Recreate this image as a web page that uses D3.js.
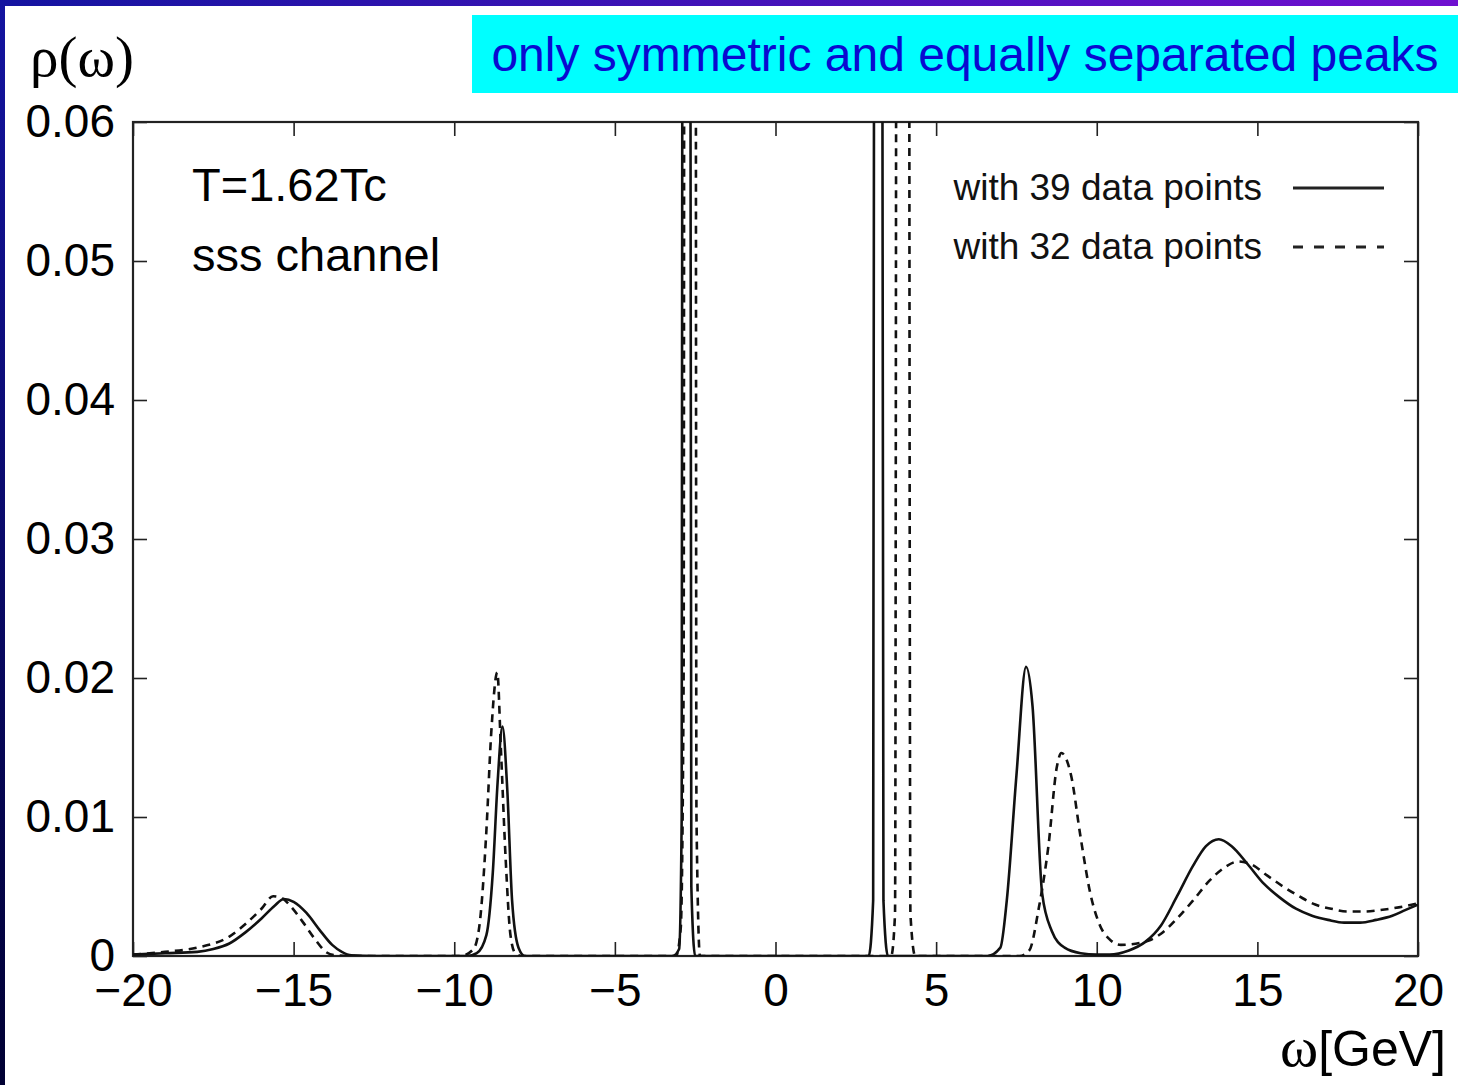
<!DOCTYPE html>
<html>
<head>
<meta charset="utf-8">
<script src="https://cdn.jsdelivr.net/npm/d3@7"></script>
<style>
  html, body { margin: 0; padding: 0; background: #fff; }
  svg { display: block; }
</style>
</head>
<body>
<div id="chart"></div>
<script>
// omega [GeV] and rho(omega)
const omega39 = [-20, -19, -18, -17.5, -17, -16.5, -16, -15.6, -15.3, -15.0, -14.6, -14.2, -13.8, -13.5, -13.2, -12.5,
  -9.6, -9.3, -9.0, -8.8, -8.65, -8.5, -8.35, -8.2, -8.0, -7.8,
  -3.2, -3.0, -2.92, -2.86, -2.78, -2.7, -2.62, -2.5,
  2.9, 3.04, 3.1, 3.16, 3.22, 3.29, 3.36, 3.5,
  6.6, 7.0, 7.2, 7.5, 7.8, 8.0, 8.3, 8.6, 9.0, 9.5, 10.0, 10.4,
  11.0, 11.5, 12.0, 12.5, 13.0, 13.4, 13.8, 14.2, 14.7, 15.2, 15.7, 16.2, 16.7, 17.2, 17.7, 18.2, 18.7, 19.2, 19.6, 20];
const rho39 = [0.0001, 0.0002, 0.0003, 0.0005, 0.0009, 0.0017, 0.0027, 0.0036, 0.0041, 0.0039, 0.0031, 0.0019, 0.0008, 0.0003, 0.00005, 0,
  0, 0.0002, 0.0015, 0.006, 0.0125, 0.0165, 0.012, 0.004, 0.0006, 0,
  0, 0.0005, 0.01, 0.2, 0.4, 0.2, 0.005, 0,
  0, 0.004, 0.15, 0.4, 0.3, 0.15, 0.004, 0,
  0, 0.0006, 0.004, 0.013, 0.0208, 0.018, 0.0045, 0.0018, 0.0006, 0.0002, 0.0001, 0.0001,
  0.0004, 0.001, 0.0022, 0.0043, 0.0065, 0.0079, 0.0084, 0.0079, 0.0066, 0.0052, 0.0042, 0.0034, 0.0029, 0.0026, 0.0024, 0.0024, 0.0026, 0.0029, 0.0033, 0.0037];

const omega32 = [-20, -19, -18, -17, -16.5, -16, -15.64, -15.4, -15.1, -14.7, -14.3, -14.0, -13.7, -13.0,
  -9.8, -9.4, -9.2, -9.0, -8.85, -8.66, -8.55, -8.4, -8.25, -8.1, -7.9,
  -3.1, -2.95, -2.86, -2.8, -2.66, -2.52, -2.46, -2.35,
  3.6, 3.72, 3.8, 3.95, 4.12, 4.2, 4.35,
  7.6, 7.9, 8.2, 8.3, 8.5, 8.75, 8.9, 9.2, 9.5, 9.8, 10.1, 10.4, 10.75,
  11.6, 12.0, 12.5, 13.0, 13.5, 14.0, 14.4, 14.8, 15.3, 15.8, 16.3, 16.8, 17.3, 17.8, 18.3, 18.8, 19.4, 20];
const rho32 = [0.0001, 0.0003, 0.0006, 0.0014, 0.0023, 0.0034, 0.0043, 0.0042, 0.0036, 0.0024, 0.0011, 0.0003, 0.00005, 0,
  0, 0.0005, 0.0025, 0.009, 0.016, 0.0204, 0.015, 0.007, 0.0015, 0.0002, 0,
  0, 0.002, 0.02, 0.3, 0.5, 0.3, 0.01, 0,
  0, 0.003, 0.2, 0.5, 0.2, 0.003, 0,
  0, 0.0004, 0.0035, 0.0048, 0.008, 0.0135, 0.0146, 0.013, 0.0085, 0.0045, 0.0022, 0.0012, 0.0008,
  0.0011, 0.0016, 0.0027, 0.004, 0.0054, 0.0064, 0.0068, 0.0066, 0.0058, 0.005, 0.0043, 0.0037, 0.0034, 0.0032, 0.0032, 0.0033, 0.0035, 0.0038];

const xTicks = [-20, -15, -10, -5, 0, 5, 10, 15, 20];
const yTicks = [0, 0.01, 0.02, 0.03, 0.04, 0.05, 0.06];
const legendLabels = ["with 39 data points", "with 32 data points"];
const notes = ["T=1.62Tc", "sss channel"];
const banner = "only symmetric and equally separated peaks";

const W = 1458, H = 1085;
const pLeft = 133, pRight = 1418, pTop = 122, pBottom = 956;

const svg = d3.select("#chart").append("svg")
  .attr("width", W).attr("height", H)
  .attr("viewBox", [0, 0, W, H]);

// slide frame: gradient bars top and left
const defs = svg.append("defs");
const gTop = defs.append("linearGradient").attr("id", "gtop").attr("x1", 0).attr("x2", 1).attr("y1", 0).attr("y2", 0);
gTop.append("stop").attr("offset", 0).attr("stop-color", "#1414a0");
gTop.append("stop").attr("offset", 1).attr("stop-color", "#7010d0");
const gLeft = defs.append("linearGradient").attr("id", "gleft").attr("x1", 0).attr("x2", 0).attr("y1", 0).attr("y2", 1);
gLeft.append("stop").attr("offset", 0).attr("stop-color", "#1414a0");
gLeft.append("stop").attr("offset", 1).attr("stop-color", "#000033");
defs.append("clipPath").attr("id", "plotclip").append("rect")
  .attr("x", pLeft).attr("y", pTop).attr("width", pRight - pLeft).attr("height", pBottom - pTop);

svg.append("rect").attr("x", 0).attr("y", 0).attr("width", W).attr("height", 6).attr("fill", "url(#gtop)");
svg.append("rect").attr("x", 0).attr("y", 0).attr("width", 5).attr("height", H).attr("fill", "url(#gleft)");

// banner
svg.append("rect").attr("x", 472).attr("y", 15).attr("width", W - 472).attr("height", 78).attr("fill", "#00ffff");
svg.append("text").attr("x", 965).attr("y", 71)
  .attr("text-anchor", "middle")
  .attr("font-family", "Liberation Sans, Arial, sans-serif")
  .attr("font-size", 48).attr("fill", "#0a0ad0")
  .text(banner);

const x = d3.scaleLinear().domain([-20, 20]).range([pLeft, pRight]);
const y = d3.scaleLinear().domain([0, 0.06]).range([pBottom, pTop]);

const font = "Liberation Sans, Arial, Helvetica, sans-serif";

// axes with inward ticks, mirrored
const tickLen = 14;
svg.append("g").attr("transform", `translate(0,${pBottom})`)
  .call(d3.axisBottom(x).tickValues(xTicks).tickSize(-tickLen).tickPadding(22)
    .tickFormat(d => d < 0 ? "\u2212" + Math.abs(d) : d))
  .call(g => g.select(".domain").remove())
  .call(g => g.selectAll("line").attr("stroke", "#222").attr("stroke-width", 1.6))
  .call(g => g.selectAll("text").attr("font-family", font).attr("font-size", 46).attr("fill", "#000").attr("dy", "0.6em"));
svg.append("g").attr("transform", `translate(0,${pTop})`)
  .call(d3.axisTop(x).tickValues(xTicks).tickSize(-tickLen).tickFormat(""))
  .call(g => g.select(".domain").remove())
  .call(g => g.selectAll("line").attr("stroke", "#222").attr("stroke-width", 1.6));
svg.append("g").attr("transform", `translate(${pLeft},0)`)
  .call(d3.axisLeft(y).tickValues(yTicks).tickSize(-tickLen).tickPadding(18)
    .tickFormat(d => d === 0 ? "0" : d3.format(".2f")(d)))
  .call(g => g.select(".domain").remove())
  .call(g => g.selectAll("line").attr("stroke", "#222").attr("stroke-width", 1.6))
  .call(g => g.selectAll("text").attr("font-family", font).attr("font-size", 46).attr("fill", "#000"));
svg.append("g").attr("transform", `translate(${pRight},0)`)
  .call(d3.axisRight(y).tickValues(yTicks).tickSize(-tickLen).tickFormat(""))
  .call(g => g.select(".domain").remove())
  .call(g => g.selectAll("line").attr("stroke", "#222").attr("stroke-width", 1.6));

svg.append("rect").attr("x", pLeft).attr("y", pTop)
  .attr("width", pRight - pLeft).attr("height", pBottom - pTop)
  .attr("fill", "none").attr("stroke", "#222").attr("stroke-width", 2.2);

// curves
const line = d3.line().x(d => x(d[0])).y(d => y(d[1])).curve(d3.curveMonotoneX);
const plot = svg.append("g").attr("clip-path", "url(#plotclip)");
plot.append("path").datum(d3.zip(omega32, rho32))
  .attr("d", line).attr("fill", "none")
  .attr("stroke", "#111").attr("stroke-width", 2.6).attr("stroke-dasharray", "8,6");
plot.append("path").datum(d3.zip(omega39, rho39))
  .attr("d", line).attr("fill", "none")
  .attr("stroke", "#111").attr("stroke-width", 2.6);

// annotations
svg.append("text").attr("x", 192).attr("y", 201).attr("font-family", font).attr("font-size", 47).text(notes[0]);
svg.append("text").attr("x", 192).attr("y", 271).attr("font-family", font).attr("font-size", 47).text(notes[1]);

// legend
legendLabels.forEach((lab, i) => {
  const ly = 188 + i * 59;
  svg.append("text").attr("x", 1262).attr("y", ly + 12).attr("text-anchor", "end")
    .attr("font-family", font).attr("font-size", 37).attr("fill", "#111").text(lab);
  svg.append("line").attr("x1", 1293).attr("x2", 1384).attr("y1", ly).attr("y2", ly)
    .attr("stroke", "#222").attr("stroke-width", 3)
    .attr("stroke-dasharray", i === 1 ? "10,11" : null);
});

// axis titles
const serif = "Liberation Serif, Times New Roman, serif";
svg.append("text").attr("x", 30).attr("y", 76).attr("font-family", serif).attr("font-size", 57).text("\u03c1(\u03c9)");
const xt = svg.append("text").attr("x", 1446).attr("y", 1066).attr("text-anchor", "end").attr("font-size", 50);
xt.append("tspan").attr("font-family", serif).attr("font-size", 58).text("\u03c9");
xt.append("tspan").attr("font-family", font).text("[GeV]");
</script>
</body>
</html>
